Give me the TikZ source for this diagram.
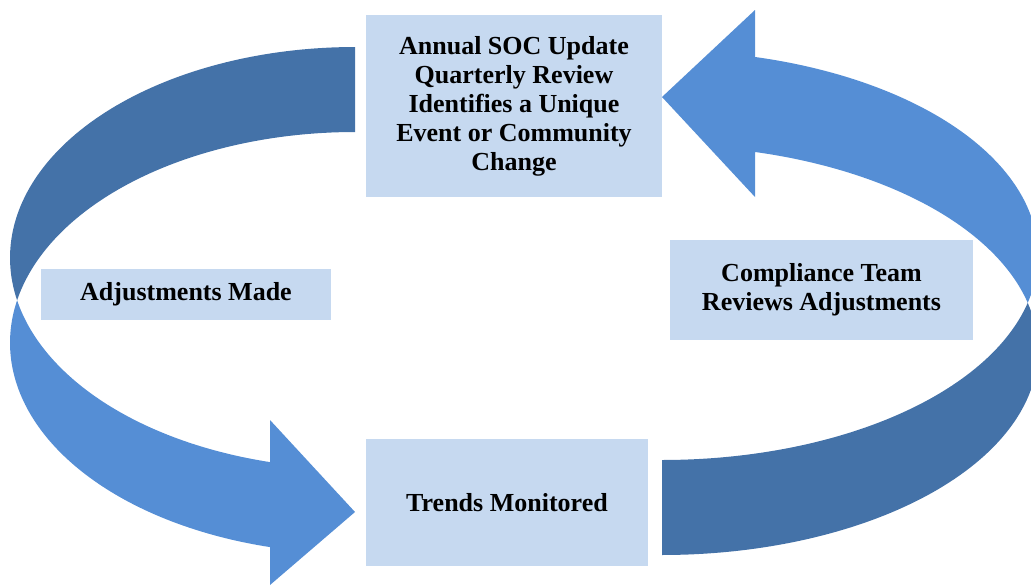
\documentclass[tikz,border=0pt]{standalone}
\usepackage{fontspec}
\setmainfont{Liberation Serif}
\definecolor{darkband}{HTML}{4472A8}
\definecolor{lightband}{HTML}{558ED5}
\definecolor{boxc}{HTML}{C6D9F0}
\begin{document}
\begin{tikzpicture}[x=0.75pt,y=-0.75pt,
  stepbox/.style={fill=boxc, draw=none, inner sep=0pt, align=center,
    font=\bfseries\fontsize{19.5}{21.75}\selectfont}]
\useasboundingbox (0,0) rectangle (1031,586);
\clip (0,0) rectangle (1031,586);
% left curved arrow: back (dark) band
\fill[darkband] plot[domain=90:191.63, samples=80] ({355+345*cos(\x)},{257.8-210.8*sin(\x)})
  -- plot[domain=168.37:90, samples=80] ({355+345*cos(\x)},{342.8-210.8*sin(\x)}) -- cycle;
% left curved arrow: front (light) band with head
\fill[lightband] plot[domain=191.63:255.74, samples=80] ({355+345*cos(\x)},{257.8-210.8*sin(\x)})
  -- (270,420) -- (355,512) -- (270,585) -- (270,547)
  -- plot[domain=255.74:168.37, samples=80] ({355+345*cos(\x)},{342.8-210.8*sin(\x)}) -- cycle;
% right curved arrow: back (dark) band
\fill[darkband] plot[domain=-90:-13.42, samples=80] ({662+376*cos(\x)},{255.3-204.7*sin(\x)})
  -- plot[domain=13.42:-90, samples=80] ({662+376*cos(\x)},{350.3-204.7*sin(\x)}) -- cycle;
% right curved arrow: front (light) band with head
\fill[lightband] plot[domain=-13.42:75.68, samples=80] ({662+376*cos(\x)},{255.3-204.7*sin(\x)})
  -- (755,10) -- (662,97) -- (755,197) -- (755,152)
  -- plot[domain=75.68:13.42, samples=80] ({662+376*cos(\x)},{350.3-204.7*sin(\x)}) -- cycle;
% boxes
\node[stepbox, minimum width=222pt, minimum height=136.5pt] (soc) at (514,106)
  {Annual SOC Update\\Quarterly Review\\Identifies a Unique\\Event or Community\\Change};
\node[stepbox, minimum width=217.5pt, minimum height=38.25pt] (adj) at (186,294.5)
  {Adjustments Made};
\node[stepbox, minimum width=227.25pt, minimum height=75pt] (comp) at (821.5,290)
  {Compliance Team\\Reviews Adjustments};
\node[stepbox, minimum width=211.5pt, minimum height=95.25pt] (trend) at (507,502.5)
  {Trends Monitored};
\end{tikzpicture}
\end{document}
